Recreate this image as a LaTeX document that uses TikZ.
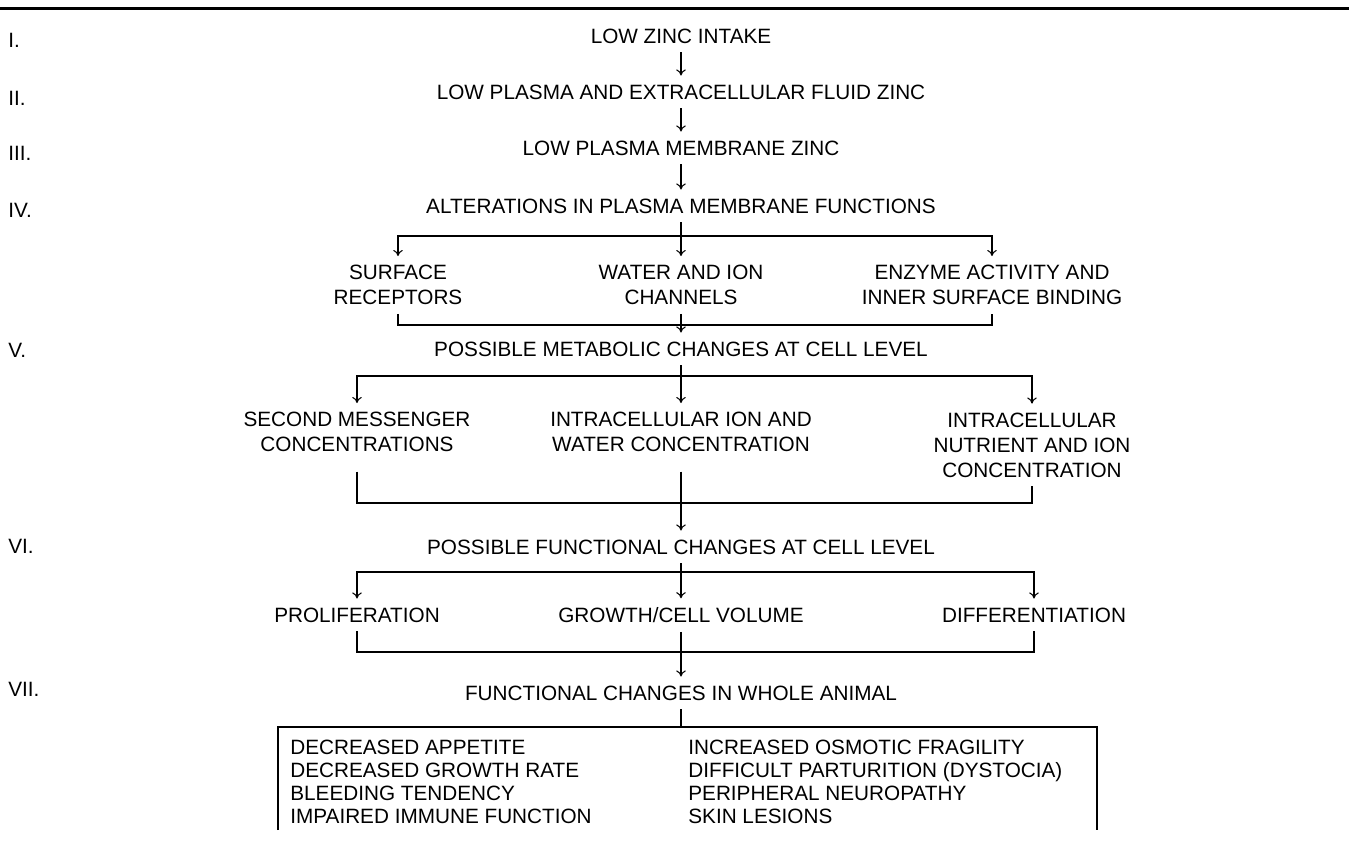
\documentclass[tikz,border=0pt]{standalone}
\usepackage{fontspec}
\setmainfont{Liberation Sans}
\usetikzlibrary{arrows.meta,calc}

\newcommand{\zrow}{\fontsize{11.8}{14.2}\selectfont}
\newcommand{\zbox}{\fontsize{11.8}{13.1}\selectfont}

\begin{document}
\begin{tikzpicture}[x=0.02cm,y=-0.02cm,
  every node/.style={font=\zrow,inner ysep=5pt},
  lvl/.style={anchor=west,inner sep=0pt},
  two/.style={align=center},
  flow/.style={-{To[length=3.5pt,width=5.5pt]},line width=0.6pt},
  link/.style={line width=0.6pt},
  fx/.style={anchor=north west,align=left,inner sep=0pt,font=\zbox}]
\useasboundingbox (0,0) rectangle (1349,850);
\draw[line width=1.7pt] (0,8) -- (1349,8);

\node[lvl] (L1) at (8,40) {I.};
\node[lvl] (L2) at (8,98) {II.};
\node[lvl] (L3) at (8,153) {III.};
\node[lvl] (L4) at (8,210) {IV.};
\node[lvl] (L5) at (8,350) {V.};
\node[lvl] (L6) at (8,546) {VI.};
\node[lvl] (L7) at (8,689) {VII.};

\node (n1) at (681,36) {LOW ZINC INTAKE};
\node (n2) at (681,92) {LOW PLASMA AND EXTRACELLULAR FLUID ZINC};
\node (n3) at (681,148) {LOW PLASMA MEMBRANE ZINC};
\node (n4) at (681,206) {ALTERATIONS IN PLASMA MEMBRANE FUNCTIONS};
\draw[flow] (n1) -- (n2);
\draw[flow] (n2) -- (n3);
\draw[flow] (n3) -- (n4);

\node[two] (s1) at (398,285) {SURFACE\\RECEPTORS};
\node[two] (w1) at (681,285) {WATER AND ION\\CHANNELS};
\node[two] (e1) at (992,285) {ENZYME ACTIVITY AND\\INNER SURFACE BINDING};
\coordinate (b4) at (681,236);
\coordinate (m4) at (681,325);
\draw[link] (n4) -- (b4);
\draw[flow] (b4) -| (s1);
\draw[flow] (b4) -- (w1);
\draw[flow] (b4) -| (e1);

\node (n5) at (681,349) {POSSIBLE METABOLIC CHANGES AT CELL LEVEL};
\draw[link] (s1) |- (m4) -| (e1);
\draw[flow] (w1) -- (n5);

\node[two] (c1) at (357,432) {SECOND MESSENGER\\CONCENTRATIONS};
\node[two] (c2) at (681,432) {INTRACELLULAR ION AND\\WATER CONCENTRATION};
\node[two] (c3) at (1032,445) {INTRACELLULAR\\NUTRIENT AND ION\\CONCENTRATION};
\coordinate (b5) at (681,376);
\coordinate (m5) at (681,503);
\draw[link] (n5) -- (b5);
\draw[flow] (b5) -| (c1);
\draw[flow] (b5) -- (c2);
\draw[flow] (b5) -| (c3);

\node (n6) at (681,547) {POSSIBLE FUNCTIONAL CHANGES AT CELL LEVEL};
\draw[link] ([yshift=-6pt]c1.south) |- (m5) -| (c3);
\draw[flow] ([yshift=-6pt]c2.south) -- (n6);

\node (p1) at (357,615) {PROLIFERATION};
\node (p2) at (681,615) {GROWTH/CELL VOLUME};
\node (p3) at (1034,615) {DIFFERENTIATION};
\coordinate (b6) at (681,572);
\coordinate (m6) at (681,652);
\draw[link] (n6) -- (b6);
\draw[flow] (b6) -| (p1);
\draw[flow] (b6) -- (p2);
\draw[flow] (b6) -| (p3);

\node (n7) at (681,693) {FUNCTIONAL CHANGES IN WHOLE ANIMAL};
\draw[link] (p1) |- (m6) -| (p3);
\draw[flow] (p2) -- (n7);

\coordinate (t7) at (681,727);
\coordinate (bxl) at (278,830);
\coordinate (bxr) at (1097,830);
\draw[link] (n7) -- (t7);
\draw[link] (bxl) |- (t7) -| (bxr);
\node[fx] (fx1) at (290,740) {DECREASED APPETITE\\DECREASED GROWTH RATE\\BLEEDING TENDENCY\\IMPAIRED IMMUNE FUNCTION};
\node[fx] (fx2) at (688,740) {INCREASED OSMOTIC FRAGILITY\\DIFFICULT PARTURITION (DYSTOCIA)\\PERIPHERAL NEUROPATHY\\SKIN LESIONS};
\end{tikzpicture}
\end{document}
